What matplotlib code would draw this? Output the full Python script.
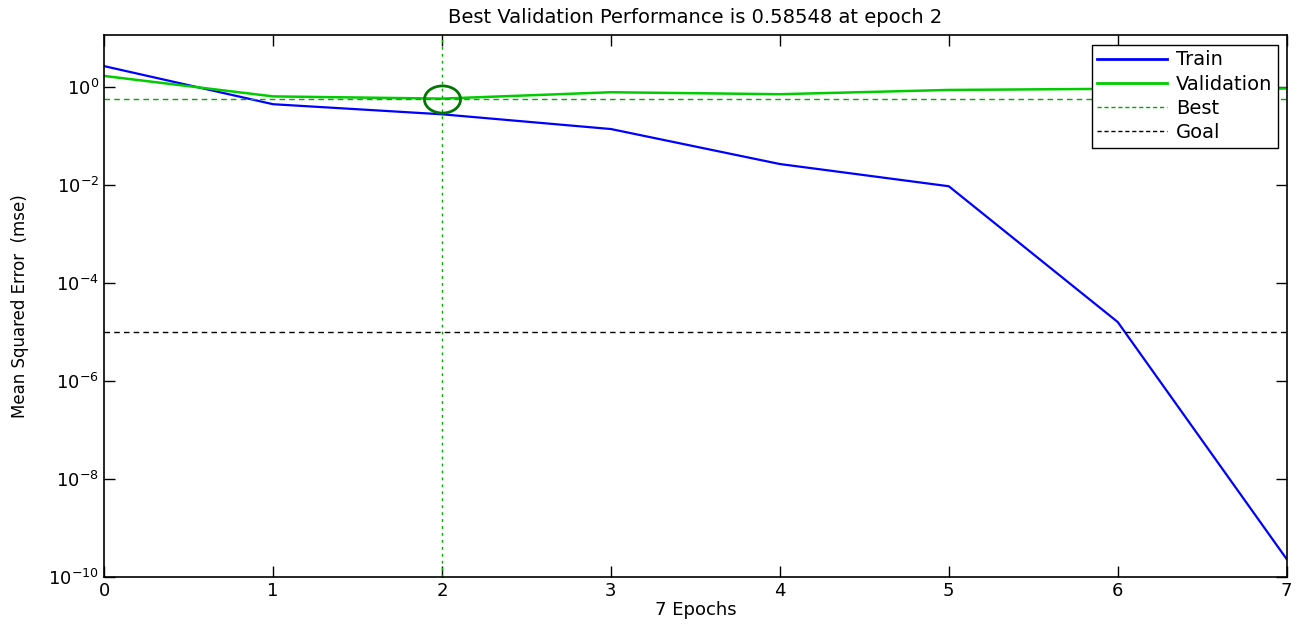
import matplotlib
matplotlib.use("Agg")
import matplotlib.pyplot as plt
from matplotlib.lines import Line2D
from matplotlib.path import Path
from matplotlib.transforms import Affine2D

# ── Data ──
epochs = [0, 1, 2, 3, 4, 5, 6, 7]
train_mse = [2.7, 0.45, 0.28, 0.14, 0.027, 0.0095, 1.6e-5, 2.3e-10]
val_mse = [1.7, 0.65, 0.58548, 0.79, 0.72, 0.88, 0.93, 0.94]
best_epoch = 2
best_perf = 0.58548
goal = 1e-5
ytick_vals = [1e-10, 1e-8, 1e-6, 1e-4, 1e-2, 1e0]
ytick_labels = ["$10^{-10}$", "$10^{-8}$", "$10^{-6}$", "$10^{-4}$", "$10^{-2}$", "$10^{0}$"]

plt.rcParams.update({
    "font.family": "DejaVu Sans",
    "font.size": 11,
    "mathtext.default": "regular",
})

fig = plt.figure(figsize=(13.01, 6.27), dpi=100)
ax = fig.add_axes([0.080, 0.080, 0.909, 0.864])

ax.semilogy(epochs, train_mse, color="#0000ff", lw=1.6, label="Train")
ax.semilogy(epochs, val_mse, color="#00cc00", lw=1.8, label="Validation")
ax.axhline(best_perf, color="#00aa00", lw=1.0, ls=(0, (4, 3)))
ax.axvline(best_epoch, color="#00aa00", lw=1.0, ls=(0, (2, 3)))
ax.axhline(goal, color="#000000", lw=1.0, ls=(0, (4, 3)))

# slightly wide ellipse marker for the best point (picture is stretched)
ellipse = Path.unit_circle().transformed(Affine2D().scale(1.33, 1.0))
ax.plot([best_epoch], [best_perf], marker=ellipse, ms=26, mfc="none",
        mec="#007700", mew=2.0, ls="none")

ax.set_xlim(0, 7)
ax.set_ylim(1e-10, 11.6)
ax.set_yticks(ytick_vals)
ax.set_yticklabels(ytick_labels)
ax.yaxis.set_minor_locator(matplotlib.ticker.NullLocator())
ax.set_xticks(epochs)
ax.tick_params(direction="in", length=8, width=1, top=True, right=True,
               labelsize=13)
for sp in ax.spines.values():
    sp.set_linewidth(1.2)

ax.set_title("Best Validation Performance is 0.58548 at epoch 2", fontsize=14, pad=9)
ax.set_xlabel("7 Epochs", fontsize=13, labelpad=1)
ax.set_ylabel("Mean Squared Error  (mse)", fontsize=12, labelpad=14)

handles = [
    Line2D([], [], color="#0000ff", lw=2),
    Line2D([], [], color="#00cc00", lw=2),
    Line2D([], [], color="#00aa00", lw=1, ls=(0, (3, 2))),
    Line2D([], [], color="#000000", lw=1, ls=(0, (3, 2))),
]
leg = ax.legend(handles, ["Train", "Validation", "Best", "Goal"],
                loc="upper right", bbox_to_anchor=(0.9924, 0.982),
                borderaxespad=0, fancybox=False, framealpha=1,
                edgecolor="#000000", fontsize=14, handlelength=3.6,
                labelspacing=0.27, borderpad=0.28, handletextpad=0.45)
leg.get_frame().set_linewidth(1.0)

fig.savefig("out.png", dpi=100, facecolor="white")
